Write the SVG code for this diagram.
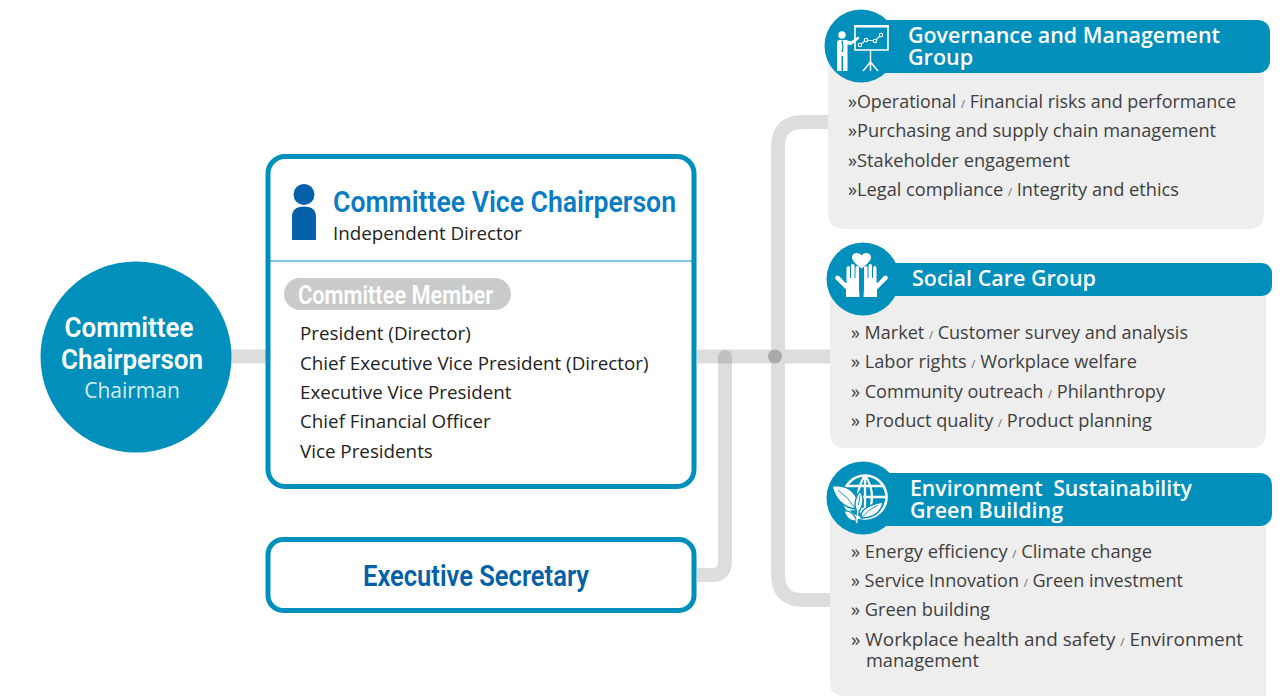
<svg xmlns="http://www.w3.org/2000/svg" width="1285" height="696" viewBox="0 0 1285 696">
<style>
text{font-family:"Open Sans","Noto Sans","DejaVu Sans",sans-serif}
.c{font-family:Roboto,"Liberation Sans",sans-serif;font-weight:600}
.body{font-size:18px;fill:#3f3f3f}
.mem{font-size:18.800px;fill:#222}
.hd{font-size:21.500px;fill:#fff;font-weight:600}
.sl{font-size:11px;fill:#666}
.panel{fill:#eeeeee}
.bar{fill:#0090bb}
.box{fill:#fff;stroke:#0090bb;stroke-width:5}
.ln{fill:none;stroke:#dcdedd;stroke-width:14}
.w{fill:#fff}
.wl{fill:none;stroke:#fff}
.lf{fill:#fff;stroke:#0090bb;stroke-width:1.300}
.vein{fill:none;stroke:#0090bb;stroke-width:.9}
</style>
<defs>
<g id="hand">
<path class="w" d="M846 297V289.500L835.500 279Q834.500 276.500 837 275.500Q839 275.500 840 277L845 282.500L846.500 283V268Q846.500 266 848.300 266Q850 266 850 268V278H851V265.500Q851 264 852.800 264Q854.500 264 854.500 265.500V278H855.500V267.500Q855.500 266 857.300 266Q859 266 859 267.500V289L859.500 297Z"/>
</g>
</defs>
<g id="connectors">
<path class="ln" d="M231 356.500H266"/>
<path class="ln" d="M697 356.500H830"/>
<path class="ln" d="M697 575H712Q725 575 725 562V357"/>
<path class="ln" d="M830 122H803Q778 122 778 147V574Q778 600 803 600H830"/>
<path d="M718 363.500V357A7 7 0 0 1 732 357V363.500Z" fill="#bfc1c0"/>
<circle cx="775" cy="356.500" r="7" fill="#a9abaa"/>
</g>
<g id="chair">
<circle cx="136" cy="357" r="95.500" fill="#0090bb"/>
<text class="c" x="129" y="337" font-size="28" fill="#fff" text-anchor="middle" textLength="129" lengthAdjust="spacingAndGlyphs">Committee</text>
<text class="c" x="132" y="369" font-size="28" fill="#fff" text-anchor="middle" textLength="142" lengthAdjust="spacingAndGlyphs">Chairperson</text>
<text x="132" y="398" font-size="21" fill="#d5eef6" text-anchor="middle">Chairman</text>
</g>
<g id="vice">
<rect class="box" x="268" y="156.500" width="426" height="330" rx="17"/>
<path d="M270 261H692" stroke="#0090bb" stroke-width="1.200"/>
<circle cx="304" cy="194.500" r="10.500" fill="#0560a8"/>
<path d="M292 240V217Q292 206.500 304 206.500Q316 206.500 316 217V240Z" fill="#0560a8"/>
<text class="c" x="333" y="212" font-size="30" fill="#0a7cc4" textLength="343" lengthAdjust="spacingAndGlyphs">Committee Vice Chairperson</text>
<text x="333" y="240" font-size="18.800" fill="#222">Independent Director</text>
<rect x="284" y="278" width="227" height="32" rx="16" fill="#c9caca"/>
<text class="c" x="298" y="304" font-size="25" fill="#fff" textLength="195" lengthAdjust="spacingAndGlyphs">Committee Member</text>
<text class="mem" x="300" y="340">President (Director)</text>
<text class="mem" x="300" y="370">Chief Executive Vice President (Director)</text>
<text class="mem" x="300" y="399">Executive Vice President</text>
<text class="mem" x="300" y="428">Chief Financial Officer</text>
<text class="mem" x="300" y="458">Vice Presidents</text>
</g>
<g id="secretary">
<rect class="box" x="268" y="539.500" width="426" height="71" rx="15"/>
<text class="c" x="476" y="586" font-size="29" fill="#0560a8" text-anchor="middle" textLength="226" lengthAdjust="spacingAndGlyphs">Executive Secretary</text>
</g>
<g id="governance">
<path class="panel" d="M828 60H1264V213Q1264 229 1248 229H844Q828 229 828 213Z"/>
<rect class="bar" x="860" y="20" width="410" height="53" rx="12"/>
<circle class="bar" cx="861" cy="46" r="36.500"/>
<g>
<circle class="w" cx="842" cy="35" r="3.700"/>
<path class="w" d="M837 43Q837 40 840 40H846L851 41.500L858 36.500L859.500 38.500L851 45L847.500 44.500V71H843V56H841.500V71H837Z"/>
<path d="M841.500 40.500L842.300 47L841.500 52L843 52L843.500 47L842.800 40.500Z" fill="#0090bb"/>
<path class="wl" stroke-width="1.600" d="M855 26H888V50H855Z"/>
<path class="w" d="M854 25H889V27.500H854Z"/>
<path class="wl" stroke-width="1.100" d="M860 45L866 40L875 41L881 35"/>
<g fill="#0090bb" stroke="#fff" stroke-width="1.100"><circle cx="860" cy="45" r="1.700"/><circle cx="866" cy="40" r="1.700"/><circle cx="875" cy="41" r="1.700"/><circle cx="881" cy="35" r="1.700"/></g>
<path class="wl" stroke-width="1.500" d="M870.500 51V71M870.500 62L863 71M870.500 62L878 71"/>
</g>
<text class="hd" x="908" y="43" textLength="312" lengthAdjust="spacingAndGlyphs">Governance and Management</text>
<text class="hd" x="908" y="65">Group</text>
<text class="body" x="848" y="108" textLength="388" lengthAdjust="spacingAndGlyphs">»Operational <tspan class="sl">/</tspan> Financial risks and performance</text>
<text class="body" x="848" y="137" textLength="368" lengthAdjust="spacingAndGlyphs">»Purchasing and supply chain management</text>
<text class="body" x="848" y="167" textLength="222" lengthAdjust="spacingAndGlyphs">»Stakeholder engagement</text>
<text class="body" x="848" y="196" textLength="331" lengthAdjust="spacingAndGlyphs">»Legal compliance <tspan class="sl">/</tspan> Integrity and ethics</text>
</g>
<g id="social">
<path class="panel" d="M830 285H1266V432Q1266 448 1250 448H846Q830 448 830 432Z"/>
<rect class="bar" x="860" y="263" width="412" height="33" rx="10"/>
<circle class="bar" cx="863" cy="279" r="36.500"/>
<g>
<path class="w" d="M861.500 268.500C857 265 852 261 852 257.500C852 254 855 252.500 857.500 253C859.500 253.300 861 254.500 861.500 255.500C862 254.500 863.500 253.300 865.500 253C868 252.500 871 254 871 257.500C871 261 866 265 861.500 268.500Z"/>
<use href="#hand"/>
<use href="#hand" transform="matrix(-1 0 0 1 1723 0)"/>
</g>
<text class="hd" x="912" y="286" textLength="184" lengthAdjust="spacingAndGlyphs">Social Care Group</text>
<text class="body" x="851" y="339" textLength="337" lengthAdjust="spacingAndGlyphs">» Market <tspan class="sl">/</tspan> Customer survey and analysis</text>
<text class="body" x="851" y="368" textLength="286" lengthAdjust="spacingAndGlyphs">» Labor rights <tspan class="sl">/</tspan> Workplace welfare</text>
<text class="body" x="851" y="398" textLength="314" lengthAdjust="spacingAndGlyphs">» Community outreach <tspan class="sl">/</tspan> Philanthropy</text>
<text class="body" x="851" y="427" textLength="301" lengthAdjust="spacingAndGlyphs">» Product quality <tspan class="sl">/</tspan> Product planning</text>
</g>
<g id="environment">
<path class="panel" d="M830 510H1266V696H846Q830 696 830 684Z"/>
<rect class="bar" x="860" y="473" width="412" height="53" rx="12"/>
<circle class="bar" cx="863" cy="498" r="36.500"/>
<g>
<circle class="wl" cx="865" cy="497" r="21.500" stroke-width="2.600"/>
<path class="wl" stroke-width="2.300" d="M865 475V519M846 486H884M844 497H887M848 509H882M865 475Q851 497 865 519M865 475Q879 497 865 519"/>
<path class="lf" d="M832 486Q852 484 858 501Q857 506 855 509Q837 506 832 486Z"/>
<path class="vein" d="M838 490Q848 497 855 508"/>
<path class="lf" d="M860 491Q866 499 860 510L857 512Q852 502 860 491Z"/>
<path class="vein" d="M860 495Q859 503 857 511"/>
<path class="lf" d="M883 502Q880 518 861 518Q860 506 883 502Z"/>
<path class="vein" d="M878 505Q868 510 861 518"/>
<path class="lf" d="M844 511Q853 510 857 521Q847 522 844 511Z"/>
<path class="wl" stroke-width="1.500" d="M858 505Q858 515 856.500 523"/>
</g>
<text class="hd" x="910" y="496" textLength="282" lengthAdjust="spacingAndGlyphs">Environment<tspan dx="5"> Sustainability</tspan></text>
<text class="hd" x="910" y="518" textLength="153" lengthAdjust="spacingAndGlyphs">Green Building</text>
<text class="body" x="851" y="558" textLength="301" lengthAdjust="spacingAndGlyphs">» Energy efficiency <tspan class="sl">/</tspan> Climate change</text>
<text class="body" x="851" y="587" textLength="332" lengthAdjust="spacingAndGlyphs">» Service Innovation <tspan class="sl">/</tspan> Green investment</text>
<text class="body" x="851" y="616" textLength="139" lengthAdjust="spacingAndGlyphs">» Green building</text>
<text class="body" x="851" y="646" textLength="392" lengthAdjust="spacingAndGlyphs">» Workplace health and safety <tspan class="sl">/</tspan> Environment</text>
<text class="body" x="866" y="667" textLength="113" lengthAdjust="spacingAndGlyphs">management</text>
</g>
</svg>
